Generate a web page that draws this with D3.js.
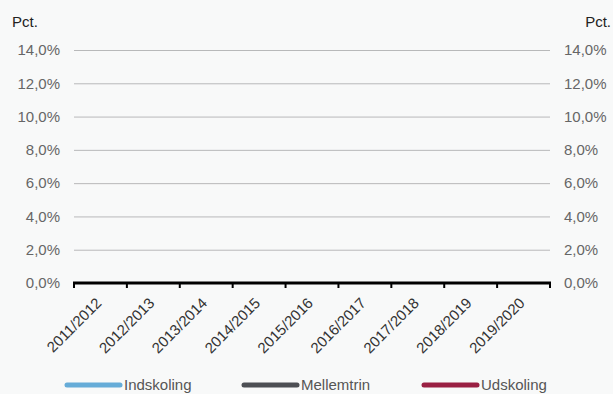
<!DOCTYPE html>
<html><head><meta charset="utf-8">
<script src="https://cdn.jsdelivr.net/npm/d3@7"></script>
<style>
html,body{margin:0;padding:0;background:#f8f9f9;}
svg{display:block;font-family:"Liberation Sans",Arial,Helvetica,sans-serif;}
</style></head>
<body><svg id="c" width="613" height="394"></svg>
<script>
const categories = ["2011/2012","2012/2013","2013/2014","2014/2015","2015/2016","2016/2017","2017/2018","2018/2019","2019/2020"];
const yTicks = [0,2,4,6,8,10,12,14];
const seriesNames = ["Indskoling","Mellemtrin","Udskoling"];
const seriesColors = ["#66acd8","#4d4f54","#9a2043"];
// No data values are visible in the reference chart
const indskoling = [null,null,null,null,null,null,null,null,null];
const mellemtrin = [null,null,null,null,null,null,null,null,null];
const udskoling  = [null,null,null,null,null,null,null,null,null];
const seriesValues = [indskoling, mellemtrin, udskoling];

const svg = d3.select("#c");
const x = d3.scaleBand().domain(categories).range([74,550]).padding(0);
const y = d3.scaleLinear().domain([0,14]).range([283,50]);

// gridlines
svg.append("g").selectAll("line").data(yTicks.filter(d=>d>0)).join("line")
  .attr("x1",74).attr("x2",550).attr("y1",d=>y(d)+0.5).attr("y2",d=>y(d)+0.5)
  .attr("stroke","#b8b9ba").attr("stroke-width",1);

const fmt = d => d.toFixed(1).replace(".",",")+"%";
// left axis labels
svg.append("g").selectAll("text").data(yTicks).join("text")
  .attr("x",60).attr("y",d=>y(d)).attr("dy","0.35em").attr("text-anchor","end")
  .attr("font-size",15).attr("fill","#666").text(fmt);
// right axis labels
svg.append("g").selectAll("text").data(yTicks).join("text")
  .attr("x",564).attr("y",d=>y(d)).attr("dy","0.35em").attr("text-anchor","start")
  .attr("font-size",15).attr("fill","#666").text(fmt);

svg.append("text").attr("x",12).attr("y",27).attr("font-size",15).attr("fill","#222").text("Pct.");
svg.append("text").attr("x",611).attr("y",27).attr("text-anchor","end").attr("font-size",15).attr("fill","#222").text("Pct.");

// series lines
const line = d3.line().defined(d=>d!=null).x((d,i)=>x(categories[i])+x.bandwidth()/2).y(d=>y(d));
svg.append("g").selectAll("path").data(seriesValues).join("path")
  .attr("d",line).attr("fill","none").attr("stroke",(d,i)=>seriesColors[i]).attr("stroke-width",3);

// x axis
const xg = svg.append("g");
xg.append("line").attr("x1",73).attr("x2",551).attr("y1",283).attr("y2",283)
  .attr("stroke","#000").attr("stroke-width",3);
const bounds = categories.map(c=>x(c)).concat([x(categories[categories.length-1])+x.bandwidth()]);
xg.selectAll("line.tick").data(bounds).join("line").attr("class","tick")
  .attr("x1",d=>d).attr("x2",d=>d).attr("y1",283).attr("y2",288)
  .attr("stroke","#000").attr("stroke-width",2);
xg.selectAll("text").data(categories).join("text")
  .attr("transform",d=>`translate(${x(d)+x.bandwidth()/2+2},${304}) rotate(-45)`)
  .attr("text-anchor","end").attr("font-size",15).attr("fill","#333").text(d=>d);

// legend
const legX = [67,244,424];
const lg = svg.append("g").selectAll("g").data(seriesNames).join("g")
  .attr("transform",(d,i)=>`translate(${legX[i]},385)`);
lg.append("line").attr("x1",0).attr("x2",53).attr("y1",0).attr("y2",0)
  .attr("stroke",(d,i)=>seriesColors[i]).attr("stroke-width",5).attr("stroke-linecap","round");
lg.append("text").attr("x",57).attr("y",0).attr("dy","0.35em").attr("font-size",15).attr("fill","#555").text(d=>d);
</script></body></html>
